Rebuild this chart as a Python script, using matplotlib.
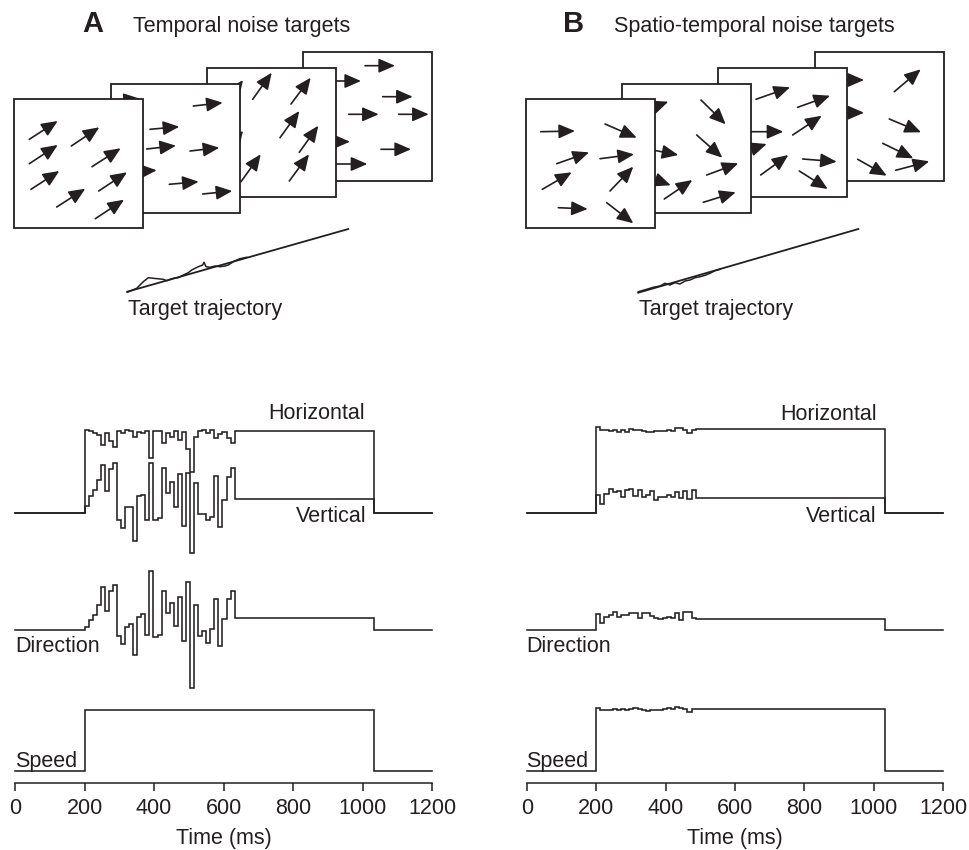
import numpy as np
import matplotlib
matplotlib.use('Agg')
import matplotlib.pyplot as plt
from matplotlib.patches import Rectangle, FancyArrowPatch

plt.rcParams['font.family'] = ['Liberation Sans', 'DejaVu Sans']
INK = '#231f20'

# ---------------- data ----------------
time_ticks = [0, 200, 400, 600, 800, 1000, 1200]
time_label = 'Time (ms)'
onset_ms = 200
offset_ms = 1033
end_ms = 1200
noise_end_A = 632
noise_end_B = 487

# Panel A (temporal noise) : values per noise frame (arbitrary units)
A_horizontal = [83, 82, 80, 78, 68, 80, 72, 66, 82, 80, 83, 82, 76, 81, 80, 82, 55, 82, 82,
                70, 80, 76, 82, 73, 81, 64, 41, 76, 82, 83, 80, 83, 75, 79, 81, 75, 70]
A_vertical = [7, 17, 23, 33, 48, 22, 44, 50, -7, -15, 6, 6, -28, 17, 18, -7, 50, -7, -5,
              45, 20, 31, 6, 39, -13, 40, -40, 30, -1, -1, -7, -4, 37, -14, 13, 36, 45]
A_direction = [3.3, 10, 15, 25, 42.7, 19.3, 39, 45, -6, -14, 3.3, 5.7, -24.7, 13.3, 15.7, -5,
               59, -6.7, -5, 39.3, 16.7, 26.7, 4.3, 33.3, -10.7, 47.7, -58.3, 25, -6, -0.7,
               -13.3, 0.7, 31.3, -15.7, 10.7, 30.7, 39.3]
A_speed = []
A_post = {'horizontal': 82.5, 'vertical': 14, 'direction': 12, 'speed': 61}

# Panel B (spatio-temporal noise)
B_horizontal = [85.7, 83.3, 83.3, 82, 83, 81.3, 83.3, 80.7, 84, 82.7, 83.3, 82.3, 81.3, 81.3,
                81.7, 82.3, 82.3, 83, 82.3, 84.7, 85, 82.7, 79.7, 82.7]
B_vertical = [18, 9, 19, 24, 20.7, 22.3, 15.7, 23, 24, 16.7, 23.3, 15.7, 18, 22.3, 13.3, 15.7,
              15.7, 18, 15.7, 21.3, 14.7, 22.3, 14, 23.3]
B_direction = [15.7, 7.3, 13.3, 15, 18, 13.3, 15, 15, 17.3, 16.7, 11.7, 16.7, 16.7, 14, 11.7,
               10.7, 12.3, 13.3, 11.7, 16.7, 10, 18, 18, 11.7]
B_speed = [63.3, 61.3, 61.3, 61, 62, 60.7, 62, 60.7, 61.7, 63.3, 62, 61.3, 60, 60.7, 60.7, 60.7,
           61.7, 62.7, 61.7, 64, 63.3, 62, 59.3, 61.7]
B_post = {'horizontal': 84, 'vertical': 14.7, 'direction': 11, 'speed': 61.7}

# schematic drawings (pixel coordinates of the illustration)
A_squares = [(14.3, 99.3), (111, 83.7), (207.3, 67.7), (303.3, 51.7)]
B_squares = [(525.7, 99.3), (622, 83.7), (718.3, 67.7), (815, 51.7)]
square_size = 129
A_arrows = [
    [((29.3, 139.3), (57.7, 121)), ((71.3, 146), (99.3, 127.3)), ((29.3, 163.7), (57.7, 145)),
     ((92, 166.7), (120.7, 148.3)), ((31, 189.3), (59.3, 171)), ((98.7, 191), (127, 172.3)),
     ((56.7, 207), (85.3, 188.7)), ((95.3, 218.7), (124, 199.7))],
    [((193.3, 106), (222.7, 102.7)), ((150, 129.3), (179.3, 126.7)), ((146.7, 149), (176, 145.7)),
     ((190, 151), (219.3, 147.7)), ((169.3, 184.3), (198.7, 181.7)), ((202.7, 194), (232.3, 191)),
     ((113, 101.5), (140, 98.7)), ((127, 172.3), (156.7, 170.3))],
    [((252.7, 99.3), (271.7, 72.7)), ((291, 104), (310.7, 77.7)), ((280, 137.7), (299.3, 111)),
     ((299.3, 152.3), (318.3, 125.7)), ((289.3, 181), (309, 154.3)), ((241, 181.7), (260.7, 154.3)),
     ((223.5, 107), (243, 80)), ((223.5, 157.5), (243, 130.7))],
    [((365, 65.7), (395, 65.7)), ((382.7, 96.7), (412.7, 96.7)), ((348.7, 114.3), (378.7, 114.3)),
     ((398.7, 114.3), (428.7, 114.3)), ((381, 149.3), (411, 149.3)), ((337, 164), (367.3, 164)),
     ((331, 81), (361, 81)), ((320, 141.7), (350, 141.7))],
]
B_arrows = [
    [((540.7, 131.7), (575, 131)), ((605, 124), (636.7, 137.7)), ((556.7, 163.7), (589, 152.3)),
     ((600, 158.7), (634, 154.3)), ((542.3, 189.3), (571.7, 172.3)), ((610, 191), (633.3, 166.7)),
     ((558.3, 207.7), (587.7, 209)), ((606.7, 202.7), (633.3, 223.3))],
    [((701, 100), (725.7, 124.3)), ((696.7, 135), (722.3, 157.7)), ((706.7, 175), (738.3, 163.3)),
     ((664.3, 199), (692.3, 180)), ((703.3, 202.3), (735.7, 192.3)), ((645, 148.5), (678.3, 155)),
     ((640, 174), (670.7, 185.3)), ((640, 112), (668.3, 101.7))],
    [((756, 99.3), (790, 87.3)), ((797.7, 107.3), (830, 95.7)), ((792.7, 135), (821.7, 115.7)),
     ((760.7, 175), (788.3, 155)), ((802.7, 159), (836.7, 161.7)), ((799.3, 171), (827.7, 189)),
     ((750, 131.7), (783.3, 131.7)), ((740, 153), (766.7, 144))],
    [((894.3, 91.7), (920.7, 69.3)), ((889.3, 119), (921, 132.3)), ((882.7, 143.3), (913.3, 158.3)),
     ((857.7, 159.3), (886.7, 175.7)), ((895.7, 170.3), (929.3, 161.3)), ((835, 80), (864, 80)),
     ((835, 112.7), (864, 112.7))],
]
A_traj_ideal = [(127.3, 291.7), (348.3, 229)]
A_traj_x = [127.3, 136.7, 143.3, 148.3, 153.3, 163.3, 166.7, 173.3, 178.3, 183.3, 188.3, 191.7,
            198.3, 202.7, 204, 206, 210, 215, 220, 225, 228.3, 233.3, 236.7, 240, 246.7]
A_traj_y = [292.3, 288.3, 281.7, 277.7, 278.3, 279.3, 280.7, 278.3, 277.7, 275, 272.7, 270,
            266.7, 265, 262.3, 266.7, 267.3, 266, 266.7, 266, 265, 261.7, 260, 258.7, 257.3]
B_traj_ideal = [(638.3, 292.7), (858.3, 229)]
B_traj_x = [638.3, 646.7, 653.3, 660, 665, 670, 675, 680, 685, 690, 695, 700, 705, 710, 715, 720]
B_traj_y = [291.7, 289.3, 287.3, 286, 283.3, 285, 282.7, 284, 281, 280, 277.7, 276.7, 275.3,
            273.3, 270.7, 269.3]

# ---------------- figure ----------------
W, H = 970, 850
fig = plt.figure(figsize=(W / 100, H / 100), dpi=100)
FS = 15.5

row_base = {'horizontal': 270, 'vertical': 270, 'direction': 153, 'speed': 12}


def step_trace(noise, post, noise_end):
    n = len(noise)
    edges = np.linspace(onset_ms, noise_end, n + 1)
    t = np.concatenate([[0], edges[:-1], [noise_end, offset_ms, end_ms]])
    v = np.concatenate([[0], np.asarray(noise, float), [post, 0, 0]])
    return t, v


def trace_axes(left_px, right_px, series, posts, noise_end):
    ax = fig.add_axes([left_px / W, (H - 783) / H, (right_px - left_px) / W, 388 / H])
    ax.set_xlim(0, end_ms)
    ax.set_ylim(0, 388)
    ax.patch.set_visible(False)
    for s in ['top', 'right', 'left']:
        ax.spines[s].set_visible(False)
    ax.spines['bottom'].set_bounds(0, end_ms)
    ax.spines['bottom'].set_linewidth(1.1)
    ax.spines['bottom'].set_color(INK)
    ax.set_yticks([])
    ax.set_xticks(time_ticks)
    ax.set_xticklabels([str(t) for t in time_ticks], fontsize=FS, color=INK)
    ax.tick_params(axis='x', direction='out', length=5.5, width=1.1, color=INK, pad=5)
    ax.set_xlabel(time_label, fontsize=FS, color=INK, labelpad=7)
    for key, noise in series.items():
        ne = noise_end if len(noise) else onset_ms
        t, v = step_trace(noise, posts[key], ne)
        ax.plot(t, v + row_base[key], drawstyle='steps-post', color=INK, lw=1.15,
                clip_on=False, solid_joinstyle='miter')
    return ax


trace_axes(15, 432, {'horizontal': A_horizontal, 'vertical': A_vertical,
                     'direction': A_direction, 'speed': A_speed}, A_post, noise_end_A)
trace_axes(526.7, 943.3, {'horizontal': B_horizontal, 'vertical': B_vertical,
                          'direction': B_direction, 'speed': B_speed}, B_post, noise_end_B)

# overlay for illustrations and labels (pixel coordinates)
ov = fig.add_axes([0, 0, 1, 1], zorder=5)
ov.set_xlim(0, W)
ov.set_ylim(H, 0)
ov.axis('off')
ov.patch.set_visible(False)


def draw_stack(squares, arrows):
    n = len(squares)
    for k in range(n - 1, -1, -1):
        z = 10 + 2 * (n - 1 - k)
        x0, y0 = squares[k]
        ov.add_patch(Rectangle((x0, y0), square_size, square_size, fc='white', ec=INK,
                               lw=1.3, zorder=z))
        for tail, head in arrows[k]:
            ov.add_patch(FancyArrowPatch(tail, head,
                                         arrowstyle='-|>,head_length=0.55,head_width=0.24',
                                         mutation_scale=18, lw=1.2, color=INK,
                                         shrinkA=0, shrinkB=0, zorder=z + 1))


draw_stack(A_squares, A_arrows)
draw_stack(B_squares, B_arrows)

for ideal, tx, ty in [(A_traj_ideal, A_traj_x, A_traj_y), (B_traj_ideal, B_traj_x, B_traj_y)]:
    (x1, y1), (x2, y2) = ideal
    ov.plot([x1, x2], [y1, y2], color=INK, lw=1.3)
    ov.plot(tx, ty, color=INK, lw=1.1)

ov.text(127.7, 315, 'Target trajectory', fontsize=FS, color=INK, va='baseline', ha='left')
ov.text(639.3, 315, 'Target trajectory', fontsize=FS, color=INK, va='baseline', ha='left')

ov.text(82.7, 32.3, 'A', fontsize=21, fontweight='bold', color=INK, va='baseline')
ov.text(133.3, 32.3, 'Temporal noise targets', fontsize=FS, color=INK, va='baseline')
ov.text(563.3, 32.3, 'B', fontsize=21, fontweight='bold', color=INK, va='baseline')
ov.text(614.3, 32.3, 'Spatio-temporal noise targets', fontsize=FS, color=INK, va='baseline')

ov.text(365, 419.3, 'Horizontal', fontsize=FS, color=INK, ha='right', va='baseline')
ov.text(366.7, 521.7, 'Vertical', fontsize=FS, color=INK, ha='right', va='baseline')
ov.text(15, 651.7, 'Direction', fontsize=FS, color=INK, ha='left', va='baseline')
ov.text(15, 766.5, 'Speed', fontsize=FS, color=INK, ha='left', va='baseline')
ov.text(876.7, 420, 'Horizontal', fontsize=FS, color=INK, ha='right', va='baseline')
ov.text(876.7, 521.7, 'Vertical', fontsize=FS, color=INK, ha='right', va='baseline')
ov.text(526, 651.7, 'Direction', fontsize=FS, color=INK, ha='left', va='baseline')
ov.text(526, 766.5, 'Speed', fontsize=FS, color=INK, ha='left', va='baseline')

fig.savefig('out.png', dpi=100, facecolor='white')
